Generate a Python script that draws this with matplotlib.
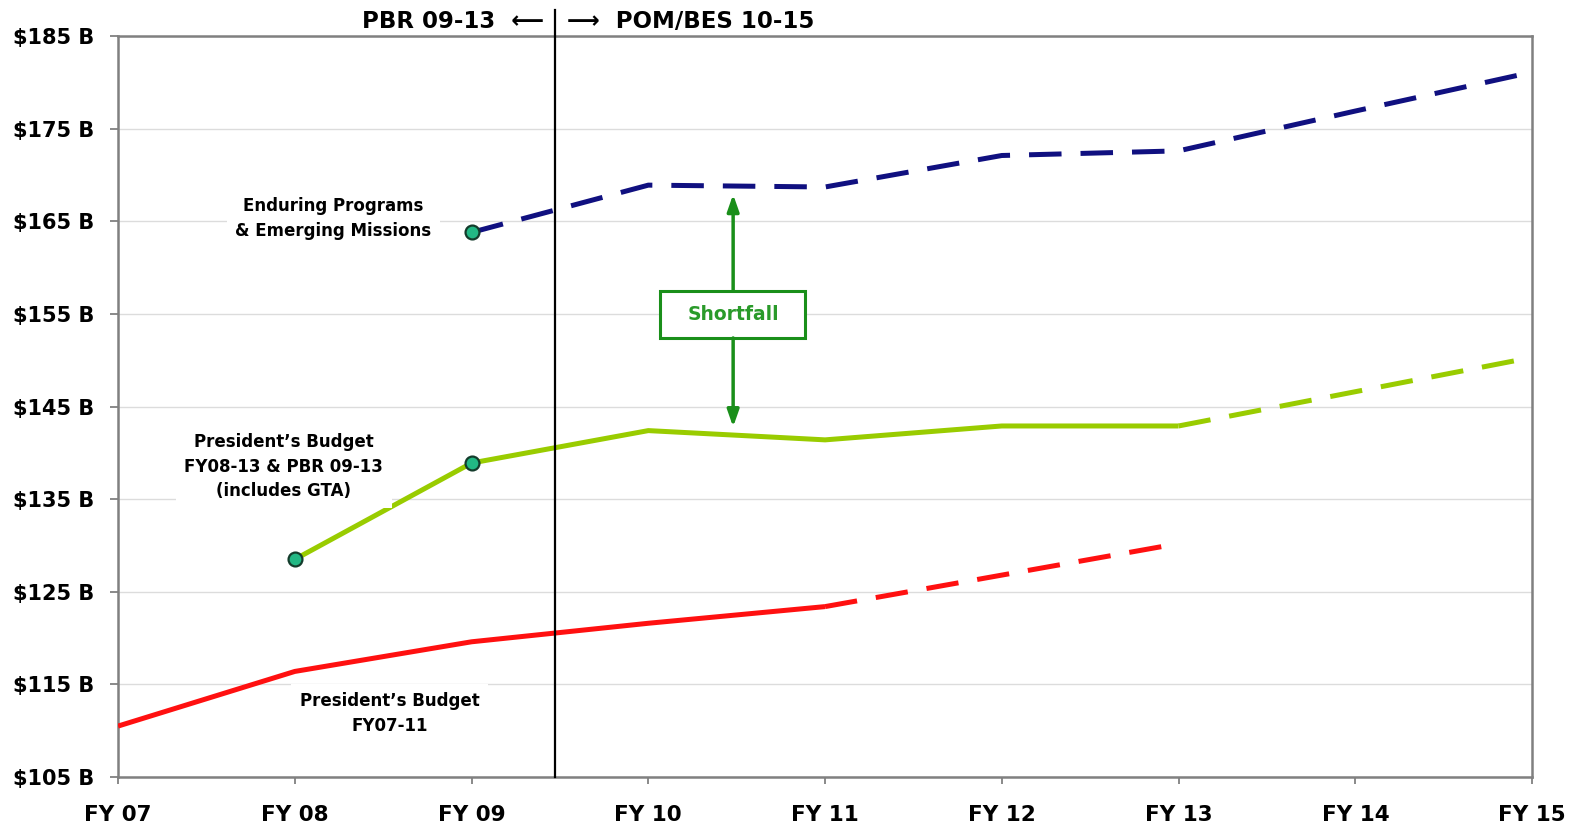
import matplotlib
matplotlib.use("Agg")
import matplotlib.pyplot as plt
from matplotlib.patches import Rectangle

plt.rcParams['font.family'] = ['DejaVu Sans']
plt.rcParams['font.weight'] = 'bold'

# ---- data ----
years = ['FY 07', 'FY 08', 'FY 09', 'FY 10', 'FY 11', 'FY 12', 'FY 13', 'FY 14', 'FY 15']
yticks = [105, 115, 125, 135, 145, 155, 165, 175, 185]
ytick_labels = ['$105 B', '$115 B', '$125 B', '$135 B', '$145 B', '$155 B', '$165 B', '$175 B', '$185 B']

pb0711_years = ['FY 07', 'FY 08', 'FY 09', 'FY 10', 'FY 11', 'FY 12', 'FY 13']
pb0711 = [110.5, 116.4, 119.6, 121.6, 123.4, 126.8, 130.2]
pb0711_solid_end = 'FY 11'

pb0813_years = ['FY 08', 'FY 09', 'FY 10', 'FY 11', 'FY 12', 'FY 13', 'FY 14', 'FY 15']
pb0813 = [128.5, 138.9, 142.4, 141.4, 142.9, 142.9, 146.6, 150.3]
pb0813_solid_end = 'FY 13'

enduring_years = ['FY 09', 'FY 10', 'FY 11', 'FY 12', 'FY 13', 'FY 14', 'FY 15']
enduring = [163.8, 168.9, 168.7, 172.1, 172.6, 176.9, 181.1]

marker_pts = [('FY 08', 128.5), ('FY 09', 138.9), ('FY 09', 163.8)]

divider_x = 2.47
shortfall_x = 3.48
shortfall_top, shortfall_bottom = 167.9, 142.8

RED = '#ff1010'
GREEN = '#99cc00'
NAVY = '#101080'
ARROW_GREEN = '#1a8f1a'

pos = {y: i for i, y in enumerate(years)}

fig = plt.figure(figsize=(15.78, 8.24), dpi=100)
ax = fig.add_axes([0.0748, 0.057, 0.8961, 0.8993])
ax.set_xlim(0, 8)
ax.set_ylim(105, 185)

def plot_split(yrs, vals, split, color, dash_all=False):
    xs = [pos[y] for y in yrs]
    k = yrs.index(split) if split else 0
    lw = 3.6
    if not dash_all:
        ax.plot(xs[:k + 1], vals[:k + 1], color=color, lw=lw, solid_capstyle='butt', zorder=3)
        l, = ax.plot(xs[k:], vals[k:], color=color, lw=lw, zorder=3)
    else:
        l, = ax.plot(xs, vals, color=color, lw=lw, zorder=3)
    l.set_dashes([6.5, 3.8])
    l.set_dash_capstyle('butt')

plot_split(pb0711_years, pb0711, pb0711_solid_end, RED)
plot_split(pb0813_years, pb0813, pb0813_solid_end, GREEN)
plot_split(enduring_years, enduring, None, NAVY, dash_all=True)

for yr, v in marker_pts:
    ax.plot(pos[yr], v, 'o', ms=10, mfc='#22b884', mec='#143c2c', mew=1.6, zorder=6)

# grid / spines / ticks
ax.set_yticks(yticks)
ax.set_yticklabels(ytick_labels)
ax.set_xticks(range(len(years)))
ax.set_xticklabels(years)
ax.grid(axis='y', color='#dcdcdc', lw=1.0, zorder=0)
ax.set_axisbelow(True)
for s in ax.spines.values():
    s.set_color('#808080')
    s.set_linewidth(1.8)
ax.tick_params(axis='y', direction='out', length=6, width=1.3, color='#808080', pad=11,
               labelsize=15)
ax.tick_params(axis='x', direction='out', length=5, width=1.3, color='#808080', pad=15,
               labelsize=15.5)
for t in ax.get_xticklabels() + ax.get_yticklabels():
    t.set_fontweight('bold')

# divider line
ax.axvline(divider_x, ymin=0, ymax=1.035, color='black', lw=1.6, clip_on=False, zorder=4)
ax.annotate('PBR 09-13  \u27f5', xy=(divider_x, 1), xycoords=('data', 'axes fraction'),
            xytext=(-8, 6), textcoords='offset points', ha='right', va='baseline',
            fontsize=16.5, fontweight='bold', annotation_clip=False)
ax.annotate('\u27f6  POM/BES 10-15', xy=(divider_x, 1), xycoords=('data', 'axes fraction'),
            xytext=(9, 6), textcoords='offset points', ha='left', va='baseline',
            fontsize=16.5, fontweight='bold', annotation_clip=False)

# labels
lab_kw = dict(ha='center', va='center', fontsize=12, fontweight='bold', linespacing=1.45,
              zorder=4, bbox=dict(boxstyle='square,pad=0.5', fc='white', ec='none'))
ax.text(1.217, 165.3, 'Enduring Programs\n& Emerging Missions', **lab_kw)
ax.text(0.938, 138.5, 'President\u2019s Budget\nFY08-13 & PBR 09-13\n(includes GTA)', **lab_kw)
ax.text(1.536, 111.85, 'President\u2019s Budget\nFY07-11', **lab_kw)

# shortfall annotation
box_l, box_r, box_b, box_t = 3.068, 3.887, 152.4, 157.5
ax.add_patch(Rectangle((box_l, box_b), box_r - box_l, box_t - box_b, fc='white',
                       ec=ARROW_GREEN, lw=2.2, zorder=5))
ax.text(shortfall_x, (box_b + box_t) / 2, 'Shortfall', ha='center', va='center',
        color='#2a9a2a', fontsize=13.5, fontweight='bold', zorder=6)
arrow_kw = dict(arrowstyle='-|>,head_length=1.0,head_width=0.35', color=ARROW_GREEN,
                lw=2.5, shrinkA=0, shrinkB=0)
ax.annotate('', xy=(shortfall_x, shortfall_top), xytext=(shortfall_x, box_t),
            arrowprops=arrow_kw, zorder=5)
ax.annotate('', xy=(shortfall_x, shortfall_bottom), xytext=(shortfall_x, box_b),
            arrowprops=arrow_kw, zorder=5)

fig.savefig('out.png', dpi=100)
